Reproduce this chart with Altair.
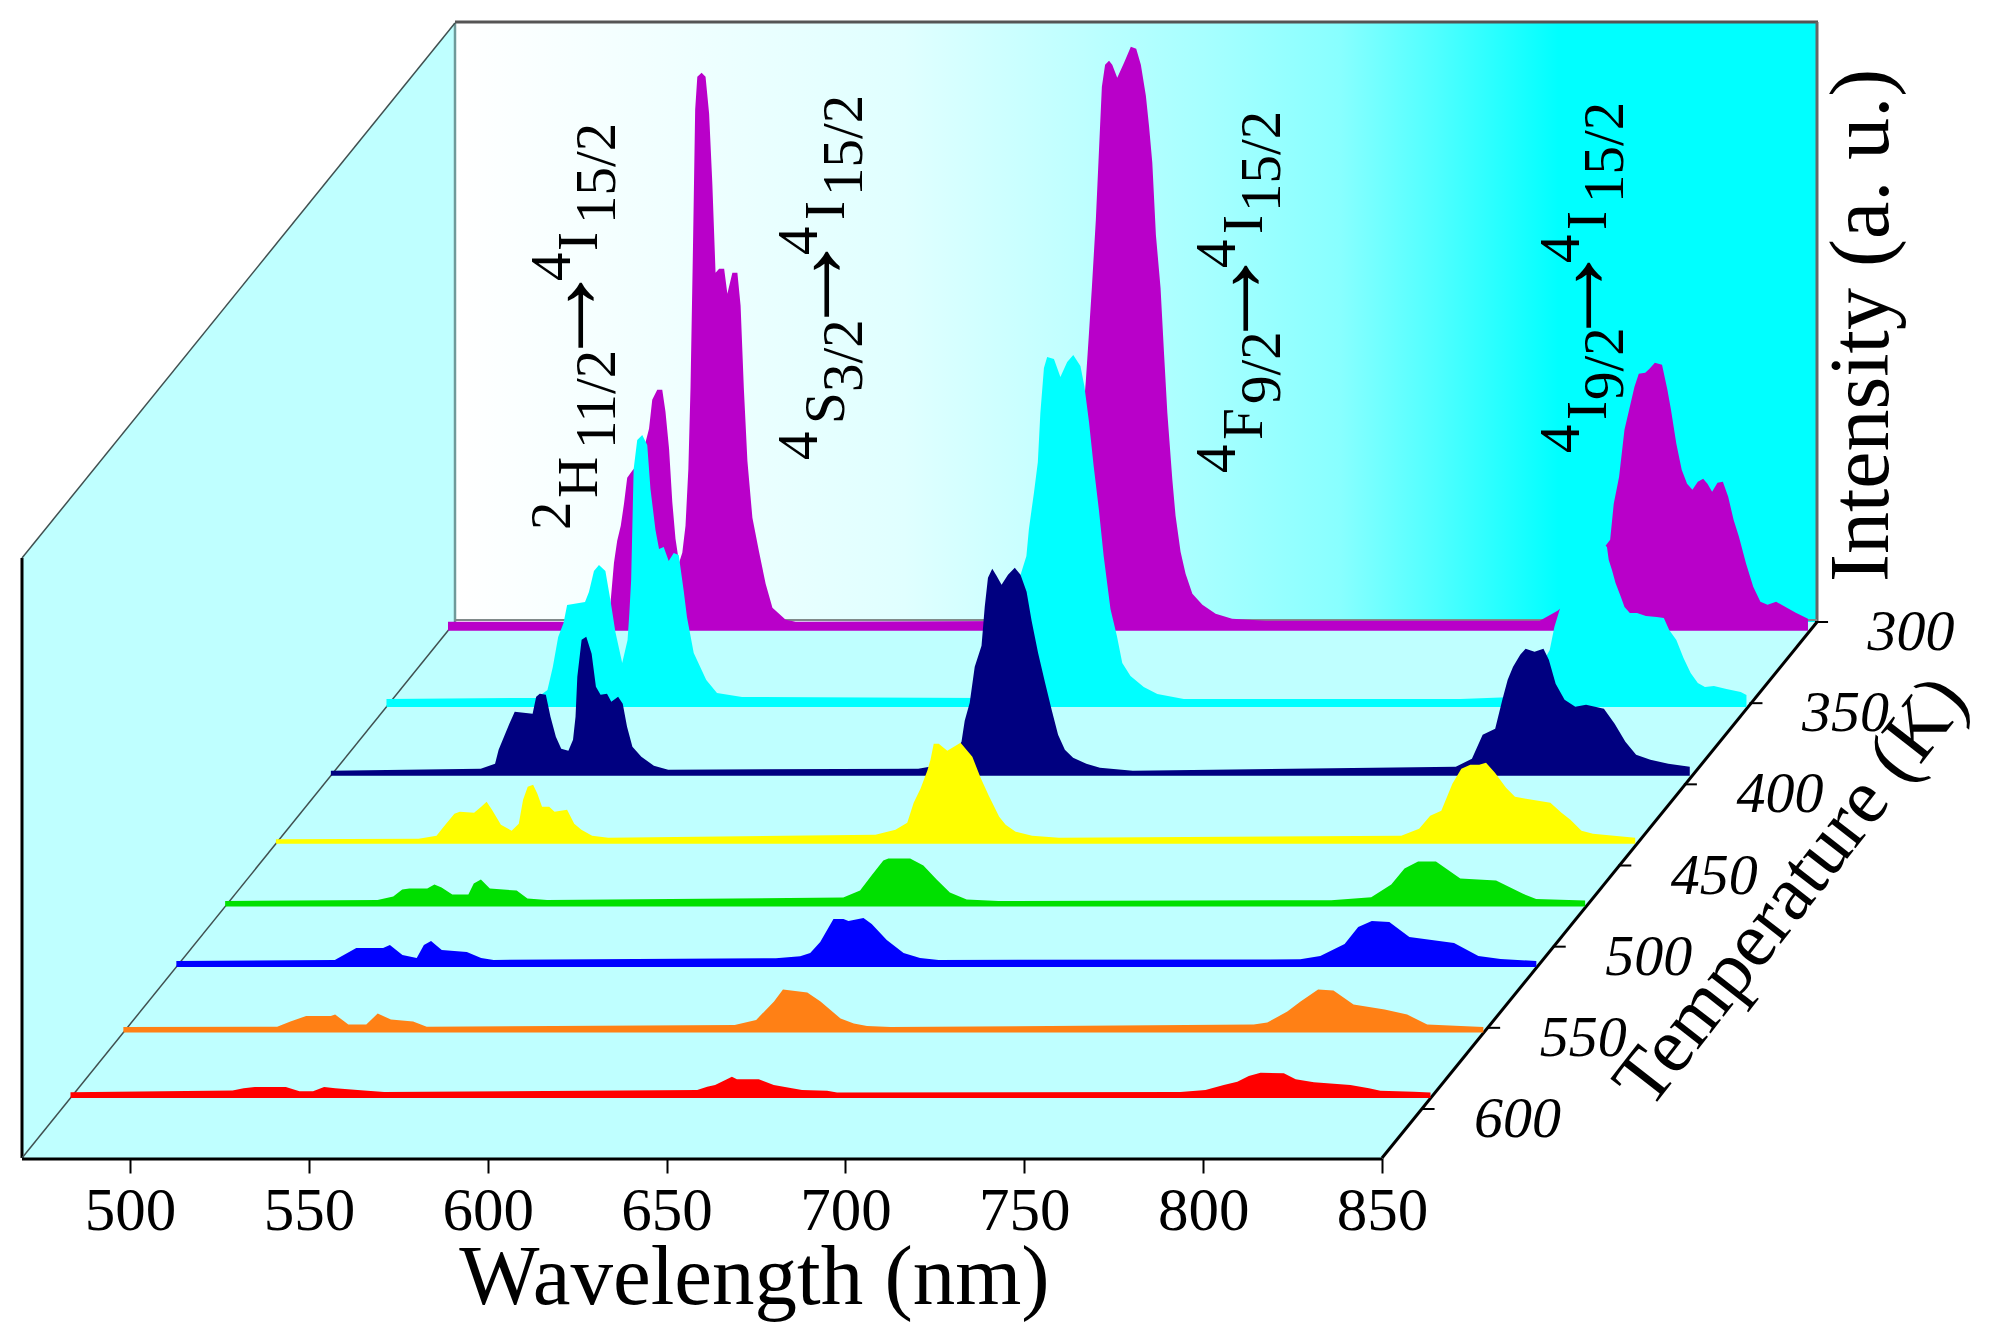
import altair as alt
import pandas as pd

FONT = "Liberation Serif"

# ---------- readings from the picture: wavelength (nm), intensity (a.u.) ----------
wl_300 = [469.8,514.0,514.8,516.2,517.1,518.1,519.0,519.9,521.3,523.7,526.0,526.9,528.3,529.7,530.6,531.6,532.5,533.4,534.4,535.3,536.2,537.0,537.6,538.3,538.9,539.5,540.7,541.8,542.8,543.7,544.6,545.6,547.0,547.9,549.3,550.7,551.6,552.5,553.5,554.9,556.7,558.6,560.5,564.2,567.0,640.0,643.0,645.0,647.0,647.6,648.1,649.0,649.8,650.9,651.8,652.6,653.5,654.6,655.5,656.9,658.8,660.7,662.2,663.5,664.9,665.8,666.7,667.7,669.0,670.0,670.9,672.3,673.2,674.6,676.0,677.9,680.7,684.4,689.0,698.4,775.0,780.0,785.0,790.0,793.2,794.7,795.7,797.2,798.7,800.2,801.5,802.7,804.5,805.7,807.2,809.2,810.7,811.7,813.2,814.7,816.2,817.7,819.2,820.7,821.9,823.2,824.7,826.2,827.7,829.2,830.7,832.7,834.7,836.7,838.7,841.1,843.6,846.6,850.0]
in_300 = [9,9,10,68,90,105,127,153,160,170,202,231,241,241,219,182,129,92,68,78,105,162,243,386,521,554,558,554,517,447,358,362,362,337,358,358,325,243,170,113,80,47,23,11,9,10,40,110,190,227,249,298,343,410,481,544,566,570,566,553,568,584,582,566,535,504,468,396,343,276,218,151,115,79,57,37,26,17,12,10,10,20,35,70,84,91,127,154,201,224,244,257,258,262,268,266,241,221,187,161,147,141,149,152,147,139,148,149,134,111,94,67,44,29,26,29,24,18,12]

wl_350 = [469.8,511.8,514.8,516.3,517.8,519.3,520.3,525.3,526.4,527.8,529.2,531.0,532.4,533.8,535.7,537.2,537.7,538.2,538.9,539.9,541.3,542.7,543.6,545.0,546.0,547.3,548.7,550.1,551.5,552.9,553.8,555.7,559.2,562.2,569.2,636.0,640.0,644.0,646.0,648.7,649.4,650.8,651.9,652.6,653.6,654.5,656.4,658.2,660.1,661.8,663.8,664.9,666.2,667.5,669.0,670.3,672.2,674.0,675.5,677.8,681.5,685.3,692.7,770.0,785.0,790.0,795.0,796.3,798.0,801.0,804.0,808.0,811.0,811.5,812.4,813.4,814.9,815.9,817.4,819.4,821.9,824.9,826.9,828.4,830.4,832.4,834.4,836.4,838.4,840.9,844.4,848.4,850.0]
in_350 = [8,9,17,40,70,84,102,105,115,136,142,136,107,75,44,67,94,127,238,267,272,262,218,177,158,160,146,154,152,116,90,54,27,14,10,9,30,80,120,151,178,214,245,294,339,350,348,330,345,352,341,321,285,241,196,151,98,71,44,31,20,13,8,8,10,25,57,80,100,135,160,170,160,147,137,124,110,100,94,94,91,90,89,77,67,49,34,24,20,21,18,15,12]

wl_400 = [469.8,511.7,515.7,516.7,518.2,519.7,521.2,526.2,527.2,528.2,529.9,531.2,532.7,534.2,536.2,537.5,538.2,538.7,539.9,541.2,542.7,543.9,545.2,547.0,548.2,550.1,551.4,552.6,554.1,556.6,560.1,564.1,634.0,637.2,640.0,644.0,646.1,647.0,648.4,649.8,651.7,652.6,653.5,654.7,655.9,657.3,659.1,661.0,662.6,664.3,665.7,667.5,669.4,671.3,673.1,675.0,677.3,681.0,684.8,694.0,784.3,788.8,791.8,795.3,797.3,798.8,800.3,802.3,803.8,806.3,808.8,810.3,812.2,814.7,817.7,820.7,825.7,828.7,831.7,834.7,838.7,843.7,849.7]
in_400 = [5,7,12,26,39,52,64,62,79,82,81,59,39,27,25,36,59,99,136,139,122,89,81,82,74,79,72,49,29,19,10,6,7,9,9,22,34,55,73,109,130,169,198,207,200,191,201,208,201,184,155,123,94,66,41,26,18,12,8,5,9,17,41,47,76,96,109,121,127,124,127,116,92,76,69,71,67,52,34,21,16,12,9]

wl_450 = [469.8,509.7,514.7,516.7,519.7,521.2,525.2,527.2,528.7,530.2,532.7,535.7,537.7,538.9,540.2,541.7,542.9,544.2,546.2,547.7,551.2,553.2,555.2,558.2,562.7,637.4,643.0,646.3,648.1,650.0,651.9,652.8,653.7,655.1,657.5,661.2,664.5,666.8,669.1,672.0,673.8,676.6,681.2,688.7,784.4,789.4,792.5,795.6,798.7,801.2,803.7,806.2,808.1,810.6,813.7,816.2,819.3,826.1,829.2,831.7,834.8,838.0,849.8]
in_450 = [4.5,5,8,17,30,32,31,37,42,34,19,13,20,44,57,59,50,37,37,32,34,20,14,8,6,9,14,21,41,55,73,84,100,100,93,101,87,66,48,27,19,12,8,6,8,15,28,33,60,75,79,79,81,71,56,47,45,41,31,24,13,10,6]

wl_500 = [469.8,512.4,516.8,519.3,521.3,526.3,528.3,530.3,533.3,537.8,539.3,541.3,543.8,551.3,554.3,559.8,642.6,647.3,650.5,653.8,655.2,661.3,665.0,668.7,672.4,677.1,686.0,779.0,790.2,795.8,799.5,803.3,808.3,815.1,825.1,832.5,836.3,850.0]
in_500 = [5.5,6.6,10,17,18,18,22,19,12,12,23,27,18,16,8,6.6,9,16,31,46,48,48,41,27,14,7,5.5,6.4,9.4,22,38,45,45,28,26,13,7.5,6]

wl_550 = [469.8,514.1,520.1,527.6,529.5,533.0,537.0,539.0,541.0,544.0,551.0,555.0,558.5,637.4,644.2,647.0,649.8,653.5,656.3,657.7,661.9,664.2,668.4,673.1,677.7,682.9,784.0,789.6,796.4,800.2,804.0,808.9,814.5,827.0,833.8,840.0,850.0]
in_550 = [6,7,19,19,22,12,9,22,26,17,15,9,7,8.7,10.6,14,25,48,48,46,49,43,27,14,9,7,7.6,11,23,40,46,45,30,24,11,8,6]

wl_orange = [469.8,512.8,516.5,520.9,527.8,529.0,532.7,537.7,540.9,544.6,550.8,554.6,640.7,646.7,651.7,654.2,661.0,664.7,670.3,674.0,677.7,684.3,785.8,789.6,795.2,798.9,803.8,808.1,813.7,822.4,828.7,834.3,850.0]
in_orange = [5.5,5.7,11,16.5,16.5,18,8,8,19,13,11,5.7,7.6,12.6,31,43,40,31,14,9,6.5,5.5,8,10,21,31,43,42,28,23,18,8,5.5]

wl_red = [469.8,515.1,518.2,521.3,530.0,533.8,537.6,540.7,543.8,551.9,557.5,645.0,647.8,650.0,653.3,654.7,656.1,662.2,666.4,671.5,674.3,681.3,684.1,780.1,787.1,792.2,796.0,799.2,802.5,809.0,812.3,817.4,823.9,827.6,832.8,836.0,845.3,850.0]
in_red = [5.6,7.4,9.6,11,11,6.7,6.7,11,9.6,7.4,6,8,11.3,13,18.7,21.3,18.7,18.7,13,9.7,8,7.3,5.5,6,8,13,16.3,22,25.3,24.7,18.7,15.7,14,13,9.7,7.3,6.3,5.5]

series_colors = ["#b900c9", "#00ffff", "#000080", "#ffff00", "#00e000", "#0000ff", "#ff8015", "#ff0000"]
series_rows = [305.4, 352.3, 394.7, 436.6, 475.3, 512.5, 552.9, 593.2]
series_wl = [wl_300, wl_350, wl_400, wl_450, wl_500, wl_550, wl_orange, wl_red]
series_in = [in_300, in_350, in_400, in_450, in_500, in_550, in_orange, in_red]

wavelength_ticks = [500, 550, 600, 650, 700, 750, 800, 850]
temperature_ticks = [300, 350, 400, 450, 500, 550, 600]

# ---------- oblique projection: picture geometry of the 3-D box ----------
PX_PER_NM = 3.577
LEFT_PX, RIGHT_PX, TOP_PX, FLOOR_PX = 22, 1832, 23, 1158
NM0 = 469.8
WALL = 600
BACK = FLOOR_PX - 622


def depth(t):
    return 49 + (600 - t) * 1.6233


def shift(d):
    return d * 0.808 / PX_PER_NM


def nm_of(px):
    return NM0 + (px - LEFT_PX) / PX_PER_NM


def y_of(py):
    return FLOOR_PX - py


x_scale = alt.Scale(domain=[NM0, nm_of(RIGHT_PX)], nice=False, zero=False)
y_scale = alt.Scale(domain=[0, FLOOR_PX - TOP_PX], nice=False, zero=False)
x_axis = alt.Axis(
    values=wavelength_ticks, domain=False, grid=False, format="d",
    tickSize=15, tickWidth=2, tickColor="#000000",
    labelFont=FONT, labelFontSize=61, labelColor="#000000", labelPadding=8,
    labelFlush=False, labelOverlap=False,
    title="Wavelength (nm)", titleFont=FONT, titleFontSize=85,
    titleFontWeight="normal", titleColor="#000000",
    titleX=732, titleY=145, titleAnchor="middle", titleAlign="center",
    titleBaseline="alphabetic")
X = alt.X("x:Q", scale=x_scale, axis=x_axis)
Y = alt.Y("y:Q", scale=y_scale, axis=None)

layers = []

# back wall with gradient
grad = alt.Gradient(gradient="linear", x1=0, x2=1, y1=0, y2=0, stops=[
    alt.GradientStop(offset=0.0, color="#ffffff"),
    alt.GradientStop(offset=0.33, color="#e0ffff"),
    alt.GradientStop(offset=0.56, color="#a4ffff"),
    alt.GradientStop(offset=0.65, color="#88ffff"),
    alt.GradientStop(offset=0.72, color="#50ffff"),
    alt.GradientStop(offset=0.81, color="#00ffff"),
    alt.GradientStop(offset=1.0, color="#00ffff"),
])
layers.append(
    alt.Chart(pd.DataFrame({"x": [nm_of(455)], "x2": [nm_of(1817)], "y": [y_of(622)], "y2": [y_of(23)]}))
    .mark_rect(fill=grad).encode(x=X, x2="x2:Q", y=Y, y2="y2:Q")
)


def seg(x1, y1, x2, y2, color, w):
    d = pd.DataFrame({"x": [nm_of(x1)], "x2": [nm_of(x2)], "y": [y_of(y1)], "y2": [y_of(y2)]})
    return alt.Chart(d).mark_rule(color=color, strokeWidth=w).encode(x=X, x2="x2:Q", y=Y, y2="y2:Q")


# floor
floor_df = pd.DataFrame({
    "y": [0.0, BACK],
    "x": [NM0, NM0 + shift(BACK)],
    "x2": [850.0, 850.0 + shift(BACK)],
})
layers.append(alt.Chart(floor_df).mark_area(orient="horizontal", color="#bfffff").encode(x=X, x2="x2:Q", y=Y))

# left wall
wall_df = pd.DataFrame({
    "x": [NM0, NM0 + shift(BACK)],
    "y": [0.0, BACK],
    "y2": [float(WALL), BACK + WALL - 1],
})
layers.append(alt.Chart(wall_df).mark_area(color="#bfffff").encode(x=X, y=Y, y2="y2:Q"))

# box edges
layers += [
    seg(455, 23, 455, 622, "#6f9a9a", 2.5),
    seg(455, 22, 1818, 22, "#555555", 3),
    seg(1817, 22, 1817, 622, "#666666", 3),
    seg(455, 620, 1817, 620, "#808a8a", 2),
    seg(22, 558, 22, 1158, "#000000", 3),
    seg(22, 558, 455, 23, "#405050", 1.5),
    seg(22, 1158, 455, 622, "#405050", 1.5),
    seg(22, 1159, 1382, 1159, "#000000", 3),
    seg(1382, 1158, 1817, 622, "#000000", 3),
]

# spectra, back to front
for color, row, wl, vals in zip(series_colors, series_rows, series_wl, series_in):
    d = depth(row)
    df = pd.DataFrame({"x": [w + shift(d) for w in wl], "y": [d] * len(wl), "y2": [d + v for v in vals]})
    layers.append(alt.Chart(df).mark_area(color=color, interpolate="linear").encode(x=X, y=Y, y2="y2:Q"))

# temperature ticks and labels
t_df = pd.DataFrame({
    "T": temperature_ticks,
    "x": [850.0 + shift(depth(t)) for t in temperature_ticks],
    "x2": [850.0 + shift(depth(t)) + 13 / PX_PER_NM for t in temperature_ticks],
    "y": [depth(t) for t in temperature_ticks],
})
layers.append(alt.Chart(t_df).mark_rule(color="#000000", strokeWidth=2).encode(x=X, x2="x2:Q", y=Y))
layers.append(
    alt.Chart(t_df).mark_text(font=FONT, fontStyle="italic", fontSize=58, align="center",
                              baseline="middle", dx=96, dy=11, color="#000000")
    .encode(x=X, y=Y, text="T:N")
)


def label_df(rows):
    return pd.DataFrame({"text": [r[0] for r in rows],
                         "x": [nm_of(r[1]) for r in rows],
                         "y": [y_of(r[2]) for r in rows]})


# level labels, rotated, each script part set apart
level_parts = [
    ("2", 570, 530), ("H", 597, 498), ("11/2", 615, 449), ("4", 570, 281), ("I", 597, 251), ("15/2", 615, 224),
    ("4", 817, 460), ("S", 844, 424), ("3/2", 862, 392), ("4", 817, 255), ("I", 844, 220), ("15/2", 862, 196),
    ("4", 1235, 473), ("F", 1262, 440), ("9/2", 1280, 404), ("4", 1235, 268), ("I", 1262, 234), ("15/2", 1280, 212),
    ("4", 1579, 453), ("I", 1606, 420), ("9/2", 1623, 400), ("4", 1579, 263), ("I", 1606, 230), ("15/2", 1623, 203),
]
layers.append(
    alt.Chart(label_df(level_parts)).mark_text(font=FONT, fontSize=57, angle=270, align="left",
                                               baseline="alphabetic", color="#000000")
    .encode(x=X, y=Y, text="text:N")
)
arrow_parts = [("\u2192", 599, 370), ("\u2192", 845, 339), ("\u2192", 1264, 353), ("\u2192", 1607, 350)]
layers.append(
    alt.Chart(label_df(arrow_parts)).mark_text(font=FONT, fontSize=110, angle=270, align="left",
                                               baseline="alphabetic", color="#000000")
    .encode(x=X, y=Y, text="text:N")
)

layers.append(
    alt.Chart(label_df([("Intensity (a. u.)", 1888, 582)])).mark_text(
        font=FONT, fontSize=84, angle=270, align="left", baseline="alphabetic", color="#000000")
    .encode(x=X, y=Y, text="text:N")
)
layers.append(
    alt.Chart(label_df([("Temperature (K)", 1792, 892)])).mark_text(
        font=FONT, fontSize=78, angle=308, align="center", baseline="middle", color="#000000")
    .encode(x=X, y=Y, text="text:N")
)

chart = (
    alt.layer(*layers)
    .properties(width=RIGHT_PX - LEFT_PX, height=FLOOR_PX - TOP_PX,
                padding={"left": LEFT_PX - 8, "top": TOP_PX - 8, "right": 158, "bottom": 175},
                autosize=alt.AutoSizeParams(type="none"))
    .configure_view(stroke=None)
)

chart.save("out.html", embed_options={"renderer": "svg", "actions": False})
